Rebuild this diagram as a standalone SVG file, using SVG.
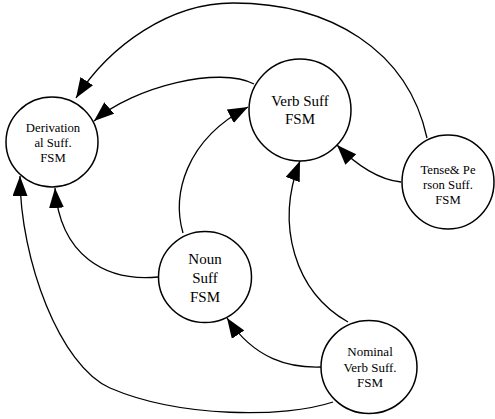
<svg xmlns="http://www.w3.org/2000/svg" width="495" height="419" viewBox="0 0 495 419">
<style>
.node{fill:#fff;stroke:#000;stroke-width:1.5}
.edge{fill:none;stroke:#000;stroke-width:1.3;marker-end:url(#ah)}
text{font-family:'Liberation Serif','DejaVu Serif',serif;fill:#000;text-anchor:middle}
.s{font-size:12.7px}
.m{font-size:13px}
.l{font-size:15px}
</style>
<defs>
<marker id="ah" markerUnits="userSpaceOnUse" markerWidth="21" markerHeight="16" refX="20" refY="7.5" orient="auto">
<path d="M0,0 L20,7.5 L0,15 z" fill="#000"/>
</marker>
</defs>
<rect width="495" height="419" fill="#fff"/>
<g id="connectors">
<path class="edge" d="M427,138 C408,50 330,3 233,3 C170,3 110,45 76,98"/>
<path class="edge" d="M254,84 C220,66 135,86 94,121"/>
<path class="edge" d="M183,233 C172,195 185,140 248,107"/>
<path class="edge" d="M158,277 C105,282 60,255 55,188"/>
<path class="edge" d="M401,182 C380,180 357,166 337,145"/>
<path class="edge" d="M348,322 C295,292 275,225 300,161"/>
<path class="edge" d="M321,367 C290,368 255,360 227,318"/>
<path class="edge" d="M333,402 C285,418 180,418 110,388 C60,366 20,260 20,176"/>
</g>
<g id="derivational">
<ellipse class="node" cx="52" cy="142" rx="46" ry="45"/>
<text class="s" x="53" y="131.7">Derivation</text>
<text class="s" x="53" y="146.7">al Suff.</text>
<text class="s" x="53" y="162">FSM</text>
</g>
<g id="verb">
<ellipse class="node" cx="300" cy="110" rx="51" ry="51"/>
<text class="l" x="300" y="106">Verb Suff</text>
<text class="l" x="300" y="124">FSM</text>
</g>
<g id="tense">
<ellipse class="node" cx="448" cy="182" rx="46" ry="47"/>
<text class="s" x="448" y="173.5">Tense&amp; Pe</text>
<text class="s" x="448" y="189">rson Suff.</text>
<text class="s" x="448" y="204">FSM</text>
</g>
<g id="noun">
<ellipse class="node" cx="205" cy="277" rx="46.5" ry="45.5"/>
<text class="l" x="205" y="264">Noun</text>
<text class="l" x="205" y="283">Suff</text>
<text class="l" x="205" y="302">FSM</text>
</g>
<g id="nominal">
<ellipse class="node" cx="369" cy="367" rx="48" ry="46.5"/>
<text class="m" x="370" y="356">Nominal</text>
<text class="m" x="370" y="371.7">Verb Suff.</text>
<text class="m" x="370" y="386.7">FSM</text>
</g>
</svg>
